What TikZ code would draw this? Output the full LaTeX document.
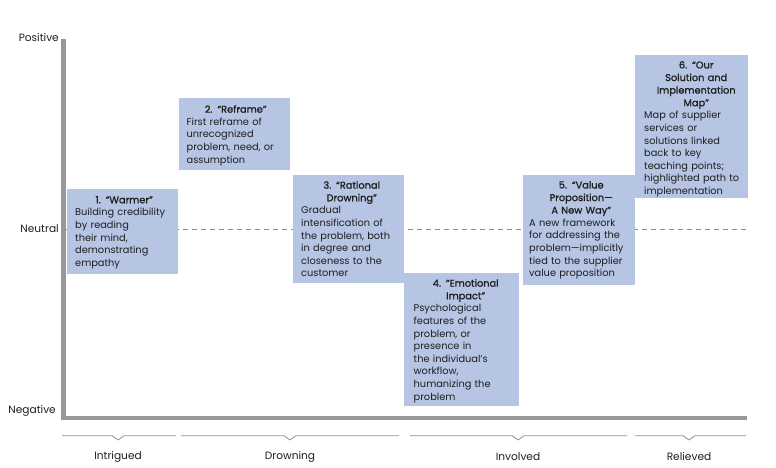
\documentclass[tikz,border=0pt]{standalone}
\usepackage{fontspec}
\setmainfont{Poppins}
\definecolor{boxblue}{RGB}{182,197,228}
\definecolor{axisgray}{RGB}{152,152,155}
\definecolor{linegray}{RGB}{140,140,140}
\definecolor{txt}{RGB}{30,30,30}
\tikzset{
  stage/.style={fill=boxblue, draw=none, anchor=north west, inner sep=0pt},
  stagetext/.style={anchor=north west, text width=#1, align=left, inner sep=0pt, text=txt, font=\fontsize{9.8}{12.6}\selectfont},
  axislbl/.style={anchor=east, inner sep=0pt, text=txt, font=\fontsize{10.6}{12}\selectfont},
  phase/.style={inner sep=0pt, text=txt, font=\fontsize{10.6}{12}\selectfont},
  brace/.style={draw=linegray, line width=0.8pt}
}
\newcommand{\ttl}[1]{{\centering\addfontfeature{FakeBold=1.2}#1\par}}
\begin{document}
\begin{tikzpicture}[x=1pt,y=-1pt]
\useasboundingbox (0,0) rectangle (776,468);
% axes
\coordinate (top) at (63.5,39);
\coordinate (corner) at (63.5,418);
\coordinate (right) at (747,418);
\draw[axisgray, line width=4.5pt] (top) -- (corner) -- (right);
\coordinate (nl) at (66,229);
\coordinate (nr) at (747,229);
\draw[linegray, dashed, dash pattern=on 5pt off 4pt, line width=0.5pt] (nl) -- (nr);
\node[axislbl] (pos) at (59,38) {Positive};
\node[axislbl] (neu) at (59,229) {Neutral};
\node[axislbl] (neg) at (56,411) {Negative};
% boxes
\node[stage, minimum width=111pt, minimum height=85pt] (b1) at (67,189) {};
\node[stagetext=98pt] (t1) at ([xshift=8pt,yshift=-7pt]b1.north west) {\ttl{1. “Warmer”}Building credibility\\by reading\\their mind,\\demonstrating\\empathy};
\node[stage, minimum width=111pt, minimum height=72pt] (b2) at (178.5,98) {};
\node[stagetext=98pt] (t2) at ([xshift=8pt,yshift=-7pt]b2.north west) {\ttl{2. “Reframe”}First reframe of\\unrecognized\\problem, need, or\\assumption};
\node[stage, minimum width=111pt, minimum height=108pt] (b3) at (293,175) {};
\node[stagetext=101pt] (t3) at ([xshift=8pt,yshift=-6pt]b3.north west) {\ttl{3. “Rational\\Drowning”}Gradual\\intensification of\\the problem, both\\in degree and\\closeness to the\\customer};
\node[stage, minimum width=115pt, minimum height=133pt] (b4) at (403.5,273) {};
\node[stagetext=104pt] (t4) at ([xshift=10pt,yshift=-6pt]b4.north west) {\ttl{4. "Emotional\\Impact"}Psychological\\features of the\\problem, or\\presence in\\the individual's\\workflow,\\humanizing the\\problem};
\node[stage, minimum width=112pt, minimum height=110pt] (b5) at (523,175) {};
\node[stagetext=104pt] (t5) at ([xshift=6pt,yshift=-6pt]b5.north west) {\ttl{5. “Value\\Proposition—\\A New Way”}A new framework\\for addressing the\\problem—implicitly\\tied to the supplier\\value proposition};
\node[stage, minimum width=113pt, minimum height=143pt] (b6) at (635,55) {};
\node[stagetext=104pt] (t6) at ([xshift=9pt,yshift=-6pt]b6.north west) {\ttl{6. “Our\\Solution and\\Implementation\\Map”}Map of supplier\\services or\\solutions linked\\back to key\\teaching points;\\highlighted path to\\implementation};
% phase braces
\foreach \n/\a/\m/\b/\lbl in {p1/62/118/176/Intrigued, p2/181/290/399/Drowning, p3/410/518/627/Involved, p4/635/689/746/Relieved}{
  \coordinate (\n l) at (\a,435.7);
  \coordinate (\n r) at (\b,435.7);
  \coordinate (\n m) at (\m,440);
  \draw[brace] (\n l) -- ([xshift=-6pt]\n m |- \n l) -- (\n m) -- ([xshift=6pt]\n m |- \n l) -- (\n r);
  \node[phase] (\n t) at (\m,457) {\lbl};
}
\end{tikzpicture}
\end{document}
